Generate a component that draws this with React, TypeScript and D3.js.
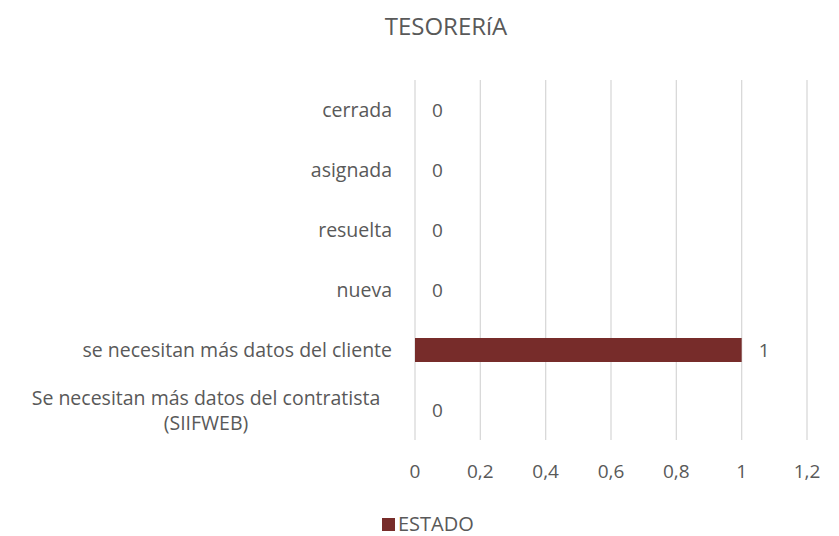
import React, { useRef, useEffect } from "react";
import * as d3 from "d3";

const categories = [
  "cerrada",
  "asignada",
  "resuelta",
  "nueva",
  "se necesitan más datos del cliente",
  "Se necesitan más datos del contratista (SIIFWEB)",
];
const values = [0, 0, 0, 0, 1, 0];
const ticks = [0, 0.2, 0.4, 0.6, 0.8, 1, 1.2];
const title = "TESORERíA";
const seriesName = "ESTADO";

const App = () => {
  const ref = useRef<SVGSVGElement>(null);

  useEffect(() => {
    const svg = d3.select(ref.current);
    svg.selectAll("*").remove();
    const width = 839;
    const height = 536;
    const font = "'Open Sans', sans-serif";
    const textColor = "#595959";
    const barColor = "#772c2a";

    const x = d3.scaleLinear().domain([0, 1.2]).range([415, 807]);
    const y = d3.scaleBand().domain(categories).range([80, 440]).paddingInner(0.6).paddingOuter(0.3);

    svg.attr("width", width).attr("height", height);
    svg.append("rect").attr("width", width).attr("height", height).attr("fill", "#fff");

    svg
      .append("text")
      .attr("x", 446)
      .attr("y", 35)
      .attr("text-anchor", "middle")
      .style("font-family", font)
      .style("font-size", "24px")
      .attr("fill", textColor)
      .text(title);

    // vertical gridlines
    svg
      .append("g")
      .selectAll("line")
      .data(ticks)
      .enter()
      .append("line")
      .attr("x1", (d) => x(d))
      .attr("x2", (d) => x(d))
      .attr("y1", 80)
      .attr("y2", 440)
      .attr("stroke", "#d9d9d9")
      .attr("stroke-width", 1.3);

    svg
      .append("g")
      .selectAll("text")
      .data(ticks)
      .enter()
      .append("text")
      .attr("x", (d) => x(d))
      .attr("y", 478)
      .attr("text-anchor", "middle")
      .style("font-family", font)
      .style("font-size", "19px")
      .attr("fill", textColor)
      .text((d) => String(d).replace(".", ","));

    svg
      .append("g")
      .selectAll("rect")
      .data(values)
      .enter()
      .append("rect")
      .attr("x", x(0))
      .attr("y", (d, i) => y(categories[i])!)
      .attr("width", (d) => x(d) - x(0))
      .attr("height", y.bandwidth())
      .attr("fill", barColor);

    svg
      .append("g")
      .selectAll("text")
      .data(values)
      .enter()
      .append("text")
      .attr("x", (d) => x(d) + 17)
      .attr("y", (d, i) => y(categories[i])! + y.bandwidth() / 2 + 7)
      .style("font-family", font)
      .style("font-size", "19px")
      .attr("fill", textColor)
      .text((d) => d);

    // category labels, long one wrapped over two centred lines
    const labels = svg.append("g");
    categories.forEach((c) => {
      const cy = y(c)! + y.bandwidth() / 2;
      const cut = c.indexOf(" (");
      const lines = cut > 0 ? [c.slice(0, cut), c.slice(cut + 1)] : [c];
      const t = labels
        .append("text")
        .attr("text-anchor", lines.length > 1 ? "middle" : "end")
        .style("font-family", font)
        .style("font-size", "19.5px")
        .attr("fill", textColor);
      lines.forEach((l, i) => {
        t.append("tspan")
          .attr("x", lines.length > 1 ? 206 : 392)
          .attr("y", cy + 7 + (i - (lines.length - 1) / 2) * 25)
          .text(l);
      });
    });

    svg
      .append("rect")
      .attr("x", 382)
      .attr("y", 518)
      .attr("width", 13)
      .attr("height", 13)
      .attr("fill", barColor);
    svg
      .append("text")
      .attr("x", 398)
      .attr("y", 531)
      .style("font-family", font)
      .style("font-size", "20px")
      .attr("fill", textColor)
      .text(seriesName);
  }, []);

  return <svg ref={ref} style={{ position: "absolute", left: 0, top: 0 }}></svg>;
};

export default App;
